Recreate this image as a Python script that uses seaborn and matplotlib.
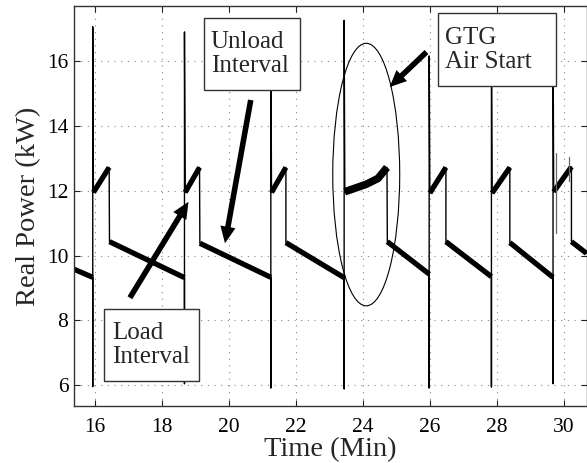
import matplotlib
matplotlib.use("Agg")
import matplotlib.pyplot as plt
import numpy as np
import pandas as pd
import seaborn as sns
from matplotlib.patches import Rectangle, Ellipse

# ---------------- data ----------------
decay_time = [[15.37, 15.93], [16.43, 18.67], [19.13, 21.25], [21.70, 23.44],
              [24.73, 25.98], [26.48, 27.84], [28.39, 29.68], [30.23, 30.68]]
decay_power = [[9.58, 9.33], [10.43, 9.32], [10.38, 9.33], [10.40, 9.32],
               [10.43, 9.43], [10.43, 9.35], [10.40, 9.33], [10.43, 10.07]]
rise_time = [[15.95, 16.42], [18.69, 19.12], [21.27, 21.70],
             [23.46, 24.10, 24.45, 24.72], [26.00, 26.48], [27.86, 28.39], [29.70, 30.23]]
rise_power = [[11.95, 12.72], [11.95, 12.72], [11.95, 12.72],
              [11.97, 12.20, 12.38, 12.72], [11.93, 12.72], [11.93, 12.72], [11.97, 12.74]]
spike_time = [15.93, 18.67, 21.25, 23.44, 25.98, 27.84, 29.68]
spike_low = [5.96, 6.05, 5.92, 5.89, 5.92, 5.95, 6.05]
spike_high = [17.06, 16.90, 17.00, 17.26, 16.16, 17.00, 17.00]
glitch_time = [29.76, 30.15]
glitch_low = [10.70, 12.30]
glitch_high = [13.15, 13.05]

x_ticks = [16, 18, 20, 22, 24, 26, 28, 30]
y_ticks = [6, 8, 10, 12, 14, 16]

# ---------------- build tables ----------------
trace_t, trace_p = [], []
for i in range(len(spike_time)):
    trace_t += decay_time[i]; trace_p += decay_power[i]
    trace_t += [spike_time[i], spike_time[i]]; trace_p += [spike_low[i], spike_high[i]]
    trace_t += rise_time[i]; trace_p += rise_power[i]
trace_t += decay_time[-1]; trace_p += decay_power[-1]
trace = pd.DataFrame({"t": trace_t, "p": trace_p})

rows = []
for k, (ts, ps) in enumerate(zip(decay_time, decay_power)):
    for t, p in zip(ts, ps):
        rows.append(("d%d" % k, t, p))
for k, (ts, ps) in enumerate(zip(rise_time, rise_power)):
    for t, p in zip(ts, ps):
        rows.append(("r%d" % k, t, p))
thick = pd.DataFrame(rows, columns=["seg", "t", "p"])

grow = []
for k, (t, lo, hi) in enumerate(zip(glitch_time, glitch_low, glitch_high)):
    grow += [("g%d" % k, t, lo), ("g%d" % k, t, hi)]
glitch = pd.DataFrame(grow, columns=["seg", "t", "p"])

# ---------------- style ----------------
sns.set_style("ticks")
plt.rcParams["font.family"] = ["Liberation Serif", "DejaVu Serif"]

W, H = 587, 463
fig = plt.figure(figsize=(W / 100, H / 100), dpi=100)
ax = fig.add_axes([74 / W, 1 - 406 / H, (586.5 - 74) / W, (406 - 6) / H])

sns.lineplot(data=trace, x="t", y="p", sort=False, estimator=None, color="black",
             lw=1.0, ax=ax, legend=False)
sns.lineplot(data=thick, x="t", y="p", units="seg", sort=False, estimator=None,
             color="black", lw=3.8, ax=ax, legend=False, solid_capstyle="butt")
sns.lineplot(data=thick[thick.seg == "r3"], x="t", y="p", sort=False, estimator=None,
             color="black", lw=5.5, ax=ax, legend=False, solid_capstyle="butt")
sns.lineplot(data=glitch, x="t", y="p", units="seg", sort=False, estimator=None,
             color="#666666", lw=0.9, ax=ax, legend=False)

ax.set_xlim(15.37, 30.68)
ax.set_ylim(5.36, 17.70)
ax.set_xticks(x_ticks)
ax.set_yticks(y_ticks)
ax.set_xticklabels([str(v) for v in x_ticks])
ax.set_yticklabels([str(v) for v in y_ticks])
ax.set_axisbelow(True)
ax.grid(True, linestyle=(0, (1, 5)), color="#888888", lw=0.8)
ax.tick_params(direction="in", length=4, width=0.8, top=True, right=True,
               labelsize=15.5, colors="#222222", labelcolor="black")
ax.tick_params(axis="x", pad=9)
ax.tick_params(axis="y", pad=4)
for s in ax.spines.values():
    s.set_visible(True)
    s.set_color("#333333")
    s.set_linewidth(1.0)

ax.set_xlabel("Time (Min)", fontsize=20.5, labelpad=0)
ax.set_ylabel("Real Power (kW)", fontsize=20.5, labelpad=4)

# ellipse around GTG air start
ax.add_patch(Ellipse((24.1, 12.5), 2.0, 8.1, fill=False, ec="black", lw=0.8, zorder=5))

# annotation boxes
def box(x0, x1, y0, y1, tx, ty, txt):
    ax.add_patch(Rectangle((x0, y0), x1 - x0, y1 - y0, fc="white", ec="#333333",
                           lw=1.0, zorder=6))
    ax.text(tx, ty, txt, ha="left", va="center", fontsize=18, linespacing=1.12,
            zorder=7)

box(19.25, 22.12, 15.10, 17.33, 19.46, 16.22, "Unload\nInterval")
box(26.23, 29.78, 15.23, 17.47, 26.46, 16.35, "GTG\nAir Start")
box(16.27, 19.11, 6.12, 8.35, 16.50, 7.23, "Load\nInterval")

arrow = dict(arrowstyle="simple,head_length=0.6,head_width=0.55,tail_width=0.2",
             fc="black", ec="black", lw=0, shrinkA=0, shrinkB=0, mutation_scale=20)
ax.annotate("", xy=(18.79, 11.66), xytext=(17.04, 8.70), arrowprops=arrow, zorder=8)
ax.annotate("", xy=(19.88, 10.38), xytext=(20.65, 14.80), arrowprops=arrow, zorder=8)
ax.annotate("", xy=(24.80, 15.20), xytext=(25.90, 16.28), arrowprops=arrow, zorder=8)

fig.savefig("out.png", dpi=100)
